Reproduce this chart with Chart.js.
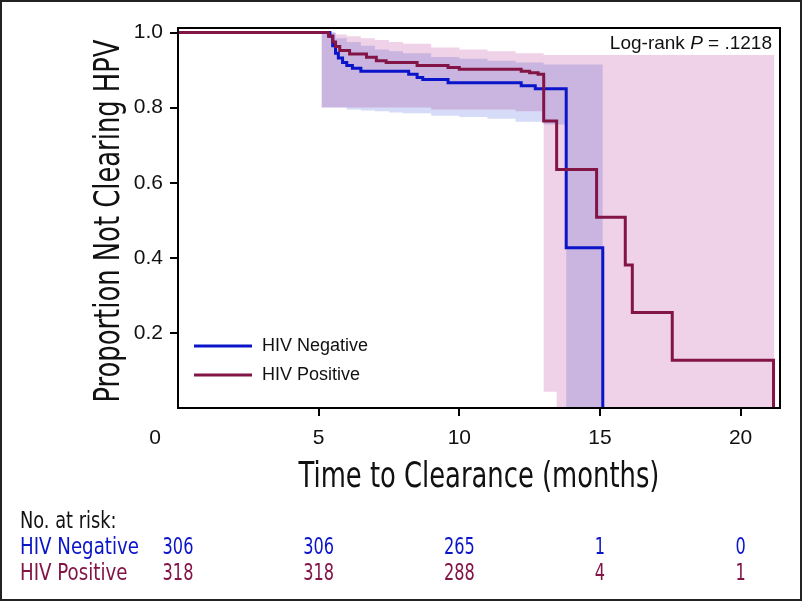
<!DOCTYPE html>
<html>
<head>
<meta charset="utf-8">
<script src="https://cdn.jsdelivr.net/npm/chart.js@4.4.0/dist/chart.umd.min.js"></script>
<style>
  html, body { margin: 0; padding: 0; background: #fff; }
  #wrap { width: 802px; height: 601px; }
</style>
</head>
<body>
<div id="wrap"><canvas id="km"></canvas></div>
<script>
// Curvas de Kaplan-Meier (meses, proporción que no aclara VPH)
var negTime = [0, 5.4, 5.5, 5.6, 5.7, 5.85, 6.0, 6.2, 6.5, 8.2, 8.5, 8.7, 9.6, 12.2, 12.7, 13.8, 15.1];
var negSurv = [1, 0.99, 0.965, 0.945, 0.932, 0.92, 0.912, 0.905, 0.897, 0.889, 0.88, 0.875, 0.866, 0.858, 0.85, 0.427, 0];
var posTime = [0, 5.35, 5.5, 5.6, 5.75, 6.1, 6.7, 7.05, 7.4, 8.5, 9.6, 10.0, 12.2, 12.5, 12.8, 13.0, 13.46, 14.88, 15.9, 16.15, 17.57, 21.17];
var posSurv = [1, 0.99, 0.975, 0.963, 0.952, 0.943, 0.934, 0.925, 0.92, 0.912, 0.907, 0.902, 0.897, 0.893, 0.889, 0.764, 0.635, 0.508, 0.381, 0.254, 0.127, 0];

// Intervalos de confianza
var negBandTime = [5.1, 5.6, 6, 6.5, 7, 7.5, 8, 9, 10, 11, 12, 13, 13.8, 15.1];
var negUpper = [1.0, 0.985, 0.975, 0.965, 0.955, 0.95, 0.945, 0.935, 0.93, 0.925, 0.92, 0.915, 0.915, 0.915];
var negLower = [0.80, 0.80, 0.795, 0.792, 0.79, 0.787, 0.785, 0.778, 0.775, 0.77, 0.762, 0.755, 0, 0];
var posBandTime = [5.1, 5.6, 6, 6.5, 7, 7.5, 8, 9, 10, 11, 12, 13.0, 13.46, 21.2];
var posUpper = [1.0, 0.995, 0.99, 0.985, 0.98, 0.975, 0.97, 0.96, 0.955, 0.95, 0.945, 0.94, 0.94, 0.94];
var posLower = [0.80, 0.80, 0.80, 0.80, 0.80, 0.80, 0.80, 0.795, 0.795, 0.795, 0.79, 0.043, 0, 0];

// Ejes
var xTicks = [0, 5, 10, 15, 20];
var yTicks = [0.2, 0.4, 0.6, 0.8, 1.0];

// Número en riesgo
var riskTimes = [0, 5, 10, 15, 20];
var negRisk = [306, 306, 265, 1, 0];
var posRisk = [318, 318, 288, 4, 1];

var azul = '#0a14c8';
var granate = '#821446';
var sans = '"Liberation Sans", Arial, sans-serif';
var narrow = '"DejaVu Sans Condensed", "DejaVu Sans", sans-serif';

function puntos(t, v) {
  return t.map(function (x, i) { return { x: x, y: v[i] }; });
}

function banda(t, v, color, relleno, orden) {
  return {
    data: puntos(t, v), stepped: 'before', borderWidth: 0, pointRadius: 0,
    borderColor: color, backgroundColor: color, fill: relleno, order: orden
  };
}

// texto estrecho: se comprime en horizontal
function textoEstrecho(c, txt, x, y, esc, alin) {
  c.save();
  c.translate(x, y);
  c.scale(esc, 1);
  c.textAlign = alin;
  c.fillText(txt, 0, 0);
  c.restore();
}

// Dibujos extra: fondo, mezcla de bandas, marcos, títulos, leyenda y tabla
var extras = {
  id: 'extras',
  beforeDraw: function (chart) {
    var c = chart.ctx;
    c.save();
    c.fillStyle = '#fff';
    c.fillRect(0, 0, chart.width, chart.height);
    c.restore();
  },
  beforeDatasetsDraw: function (chart) {
    chart.ctx.save();
    chart.ctx.globalCompositeOperation = 'multiply';
  },
  beforeDatasetDraw: function (chart, args) {
    // las curvas se dibujan normales, solo las bandas se multiplican
    if (chart.data.datasets[args.index].label) chart.ctx.globalCompositeOperation = 'source-over';
  },
  afterDatasetsDraw: function (chart) {
    chart.ctx.restore();
  },
  afterDraw: function (chart) {
    var c = chart.ctx, a = chart.chartArea, xs = chart.scales.x;
    c.save();
    c.strokeStyle = '#000';
    c.lineWidth = 2;
    c.strokeRect(a.left, a.top, a.right - a.left, a.bottom - a.top);
    c.strokeStyle = '#222';
    c.strokeRect(1, 1, chart.width - 2, chart.height - 2);

    // etiqueta 0 desplazada a la izquierda
    c.fillStyle = '#111';
    c.font = '21px ' + sans;
    c.textAlign = 'center';
    c.textBaseline = 'middle';
    c.fillText('0', xs.getPixelForValue(0) - 23, 438);

    // títulos de los ejes
    c.font = '35px ' + narrow;
    textoEstrecho(c, 'Time to Clearance (months)', (a.left + a.right) / 2, 478, 0.82, 'center');
    c.save();
    c.translate(110, (a.top + a.bottom) / 2 + 3);
    c.rotate(-Math.PI / 2);
    textoEstrecho(c, 'Proportion Not Clearing HPV', 0, 0, 0.82, 'center');
    c.restore();

    // leyenda
    var ley = [['HIV Negative', azul], ['HIV Positive', granate]];
    ley.forEach(function (l, i) {
      var y = 346 + i * 29;
      c.strokeStyle = l[1];
      c.lineWidth = 3;
      c.beginPath();
      c.moveTo(a.left + 16, y);
      c.lineTo(a.left + 74, y);
      c.stroke();
      c.fillStyle = '#111';
      c.font = '18px ' + sans;
      c.textAlign = 'left';
      c.fillText(l[0], a.left + 84, y);
    });

    // Log-rank P = .1218
    c.font = '19px ' + sans;
    c.textAlign = 'left';
    var p1 = 'Log-rank ', p3 = ' = .1218';
    var w1 = c.measureText(p1).width, w3 = c.measureText(p3).width;
    c.font = 'italic 19px ' + sans;
    var w2 = c.measureText('P').width;
    var x0 = a.right - 8 - (w1 + w2 + w3);
    c.font = '19px ' + sans;
    c.fillText(p1, x0, 44);
    c.font = 'italic 19px ' + sans;
    c.fillText('P', x0 + w1, 44);
    c.font = '19px ' + sans;
    c.fillText(p3, x0 + w1 + w2, 44);

    // tabla de número en riesgo
    c.font = '23px ' + narrow;
    c.fillStyle = '#111';
    textoEstrecho(c, 'No. at risk:', 20, 522, 0.86, 'left');
    var filas = [['HIV Negative', negRisk, azul, 548], ['HIV Positive', posRisk, granate, 574]];
    filas.forEach(function (f) {
      c.fillStyle = f[2];
      textoEstrecho(c, f[0], 20, f[3], 0.88, 'left');
      f[1].forEach(function (n, i) {
        textoEstrecho(c, String(n), xs.getPixelForValue(riskTimes[i]), f[3], 0.78, 'center');
      });
    });
    c.restore();
  }
};

var ctx = document.getElementById('km').getContext('2d');

var config = {
  type: 'line',
  data: {
    datasets: [
      { label: 'HIV Negative', data: puntos(negTime, negSurv), stepped: 'before', borderColor: azul,
        borderWidth: 3, pointRadius: 0, fill: false, order: 1 },
      { label: 'HIV Positive', data: puntos(posTime, posSurv), stepped: 'before', borderColor: granate,
        borderWidth: 3, pointRadius: 0, fill: false, order: 0 },
      banda(posBandTime, posUpper, '#f0d2e8', '+1', 3),
      banda(posBandTime, posLower, '#f0d2e8', false, 3),
      banda(negBandTime, negUpper, '#d6dcf7', '+1', 2),
      banda(negBandTime, negLower, '#d6dcf7', false, 2)
    ]
  },
  options: {
    responsive: true,
    maintainAspectRatio: false,
    animation: false,
    layout: { padding: { left: 0, top: 28, right: 22, bottom: 103 } },
    plugins: { legend: { display: false }, tooltip: { enabled: false } },
    scales: {
      x: {
        type: 'linear', min: 0, max: 21.4,
        afterBuildTicks: function (s) { s.ticks = xTicks.map(function (v) { return { value: v }; }); },
        afterFit: function (s) { s.height = 90; },
        ticks: {
          callback: function (v) { return v === 0 ? '' : String(v); },
          font: { family: sans, size: 21 }, color: '#111', padding: 10, maxRotation: 0, autoSkip: false
        },
        grid: {
          drawOnChartArea: false, tickLength: 8, lineWidth: 2,
          color: function (c) { return c.tick && c.tick.value === 0 ? 'rgba(0,0,0,0)' : '#000'; }
        },
        border: { display: true, color: '#000', width: 2 }
      },
      y: {
        min: 0, max: 1.012,
        afterBuildTicks: function (s) { s.ticks = yTicks.map(function (v) { return { value: v }; }); },
        afterFit: function (s) { s.width = 178; },
        ticks: {
          callback: function (v) { return v.toFixed(1); },
          font: { family: sans, size: 21 }, color: '#111', padding: 7
        },
        grid: { drawOnChartArea: false, tickLength: 8, lineWidth: 2, color: '#000' },
        border: { display: true, color: '#000', width: 2 }
      }
    }
  },
  plugins: [extras]
};

var myChart = new Chart(ctx, config);
</script>
</body>
</html>
